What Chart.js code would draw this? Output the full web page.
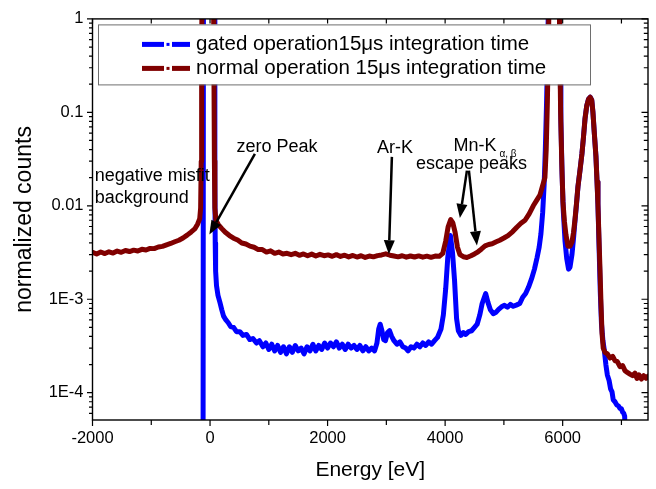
<!DOCTYPE html>
<html><head><meta charset="utf-8">
<script src="https://cdn.jsdelivr.net/npm/chart.js@4/dist/chart.umd.min.js"></script>
<style>html,body{margin:0;padding:0;background:#fff;}#wrap{width:656px;height:489px;position:relative;}</style>
</head><body><div id="wrap"><canvas id="c" width="656" height="489"></canvas></div>
<script>
// ---------- data ----------
const seriesNames = ['gated operation15\u03bcs integration time', 'normal operation 15\u03bcs integration time'];
const seriesColors = ['#0000ff', '#800000'];

const normalEnergy = [-2000,-1930,-1860,-1790,-1720,-1650,-1580,-1510,-1440,-1370,-1300,-1230,-1160,-1090,-1020,-950,-880,-810,-740,-670,-600,-530,-460,-390,-320,-260,-210,-175,-160,-150,-143,-136,
 58,66,74,82,100,140,200,260,330,400,470,540,610,680,750,820,890,960,1030,1100,1170,1240,1310,1380,1450,1520,1590,1660,1730,1800,1870,1940,2010,2080,2150,2220,2290,2360,2430,2500,2570,2640,2710,2780,2850,2920,2990,3060,3130,3200,3270,3340,3410,3480,3550,3620,3690,3760,3830,3900,
 3960,4010,4050,4095,4130,4170,4210,4252,4310,4370,4440,4500,4560,4620,4680,4740,4800,4870,4930,5000,5070,5150,5220,5290,5360,5430,5500,5560,5613,5660,5698,5720,5740,5760,5775,
 5935,5950,5965,5985,6005,6030,6056,6090,6125,6158,6185,6209,6235,6260,6295,6328,6355,6380,6410,6440,6470,6495,6515,6540,6566,6585,6600,6618,6635,6652,6670,6690,6720,6760,6805,6850,6890,6930,6975,7020,7060,7100,7145,7190,7230,7264,7300,7340,7380,7420,7452];
const normalCounts = [0.00318,0.00305,0.00320,0.00308,0.00322,0.00312,0.00328,0.00318,0.00332,0.00324,0.00335,0.00328,0.00342,0.00336,0.00350,0.00348,0.00362,0.00368,0.00382,0.00395,0.00412,0.00428,0.00452,0.00485,0.00525,0.00565,0.00640,0.00730,0.0095,0.03,0.3,3,
 3,0.3,0.03,0.0095,0.0070,0.0063,0.0057,0.0052,0.0048,0.0045,0.0043,0.0040,0.0039,0.0037,0.0036,0.0034,0.0034,0.0032,0.0033,0.0031,0.0032,0.00305,0.0031,0.0030,0.00310,0.00295,0.00305,0.00292,0.00304,0.00290,0.00302,0.00292,0.00298,0.00288,0.00300,0.00287,0.00296,0.00284,0.00294,0.00283,0.00292,0.00280,0.00290,0.00284,0.00293,0.00298,0.00306,0.00296,0.00290,0.00284,0.00292,0.00282,0.00290,0.00283,0.00291,0.00282,0.00289,0.00281,0.00290,0.00288,
 0.00310,0.00420,0.00590,0.00710,0.00660,0.00520,0.00360,0.00300,0.00285,0.00280,0.00292,0.00305,0.00322,0.00345,0.00372,0.00385,0.00392,0.00412,0.00428,0.00452,0.00480,0.00530,0.00590,0.00650,0.00700,0.00820,0.0100,0.0115,0.0130,0.0165,0.0200,0.040,0.13,0.7,3,
 3,0.6,0.1,0.028,0.0110,0.0068,0.0049,0.0037,0.0037,0.0041,0.0052,0.0071,0.0105,0.016,0.024,0.036,0.055,0.085,0.118,0.138,0.145,0.135,0.10,0.058,0.034,0.018,0.0105,0.0045,0.0021,0.0009,0.00043,0.00030,0.00027,0.00026,0.000235,0.000245,0.00022,0.000215,0.00019,0.000195,0.000172,0.000165,0.000158,0.000152,0.000162,0.000142,0.000155,0.000140,0.000152,0.000143,0.000150];

const gatedEnergy = [-120,-112,74,80,84,88,95,110,135,167,200,230,270,310,350,400,450,507,560,620,677,730,790,840,900,950,1000,1050,1100,1150,1200,1250,1300,1350,1400,1450,1500,1550,1600,1650,1700,1750,1800,1850,1900,1950,2000,2050,2100,2150,2200,2250,2300,2350,2400,2450,2500,2550,2600,2650,2700,2750,2800,
 2840,2870,2895,2925,2955,2985,3020,3055,3090,3130,3180,3230,3280,3330,3370,3420,3470,3520,3570,3620,3670,3720,3770,3820,3870,3930,3970,4010,4045,4090,4125,4160,4195,4225,4270,4310,4350,4400,4450,4500,4545,4590,4630,4690,4730,4770,4820,4860,4910,4960,5010,5060,5110,5160,5220,5270,5320,5370,5420,5470,5520,5565,5600,5630,5660,5685,5705,5725,5745,5765,
 5940,5955,5970,5990,6010,6040,6070,6100,6125,6158,6185,6209,6235,6260,6295,6328,6355,6380,6410,6440,6470,6495,6515,6540,6566,6585,6600,6620,6640,6660,6685,6710,6735,6760,6790,6815,6840,6860,6890,6920,6950,6975,7000,7020,7040,7055,7065];
const gatedCounts = [0.000001,5,5,0.3,0.02,0.004,0.0020,0.0014,0.00110,0.00093,0.00077,0.00066,0.00060,0.00056,0.00051,0.00050,0.00045,0.00045,0.00041,0.00042,0.00037,0.00038,0.00034,0.00036,0.00031,0.00034,0.00029,0.00033,0.00028,0.00032,0.00027,0.00031,0.00026,0.00031,0.00027,0.00032,0.00028,0.00030,0.00026,0.00031,0.00028,0.00033,0.00028,0.00032,0.00029,0.00034,0.00030,0.00034,0.00031,0.00035,0.00030,0.00033,0.00029,0.00033,0.00030,0.00032,0.00029,0.00032,0.00028,0.00031,0.00028,0.00030,0.00028,
 0.00034,0.00048,0.00054,0.00046,0.00037,0.00036,0.00044,0.00046,0.00040,0.00036,0.00033,0.00035,0.00031,0.00030,0.00028,0.00031,0.00030,0.00033,0.00031,0.00034,0.00032,0.00035,0.00033,0.00036,0.00039,0.00048,0.00068,0.00130,0.00280,0.00480,0.00320,0.00160,0.00062,0.00046,0.00041,0.00044,0.00042,0.00045,0.00046,0.00050,0.00054,0.00068,0.00090,0.00115,0.00092,0.00077,0.00070,0.00072,0.00078,0.00083,0.00086,0.00082,0.00088,0.00084,0.00087,0.00090,0.00105,0.00115,0.00135,0.00165,0.0021,0.0028,0.0036,0.0050,0.0085,0.017,0.04,0.12,0.45,3,
 3,0.4,0.08,0.022,0.0090,0.0042,0.0027,0.0021,0.0022,0.0030,0.0045,0.0068,0.0103,0.016,0.024,0.036,0.055,0.085,0.118,0.138,0.145,0.135,0.10,0.058,0.034,0.018,0.0105,0.0035,0.0012,0.00055,0.00036,0.00028,0.00020,0.000155,0.000135,0.000110,0.000102,0.000084,0.000080,0.000074,0.000072,0.000068,0.000067,0.000062,0.000060,0.000056,0.00003];

const xTickValues = [-2000, 0, 2000, 4000, 6000];
const xTickLabels = ['-2000', '0', '2000', '4000', '6000'];
const yTickValues = [1e-4, 1e-3, 1e-2, 1e-1, 1];
const yTickLabels = ['1E-4', '1E-3', '0.01', '0.1', '1'];

// annotations anchored in data units (energy, counts)
const noteTexts = [
  {text: 'negative misfit', e: -1961, v: 0.0182},
  {text: 'background', e: -1961, v: 0.0107},
  {text: 'zero Peak', e: 451, v: 0.0372},
  {text: 'Ar-K', e: 2839, v: 0.0367},
  {text: 'Mn-K', e: 4141, v: 0.0386},
  {text: 'escape peaks', e: 3503, v: 0.0249}
];
const noteSub = {text: '\u03b1, \u03b2', e: 4924, v: 0.0334};
const noteArrows = [
  {e0: 763, v0: 0.0359, e1: -12, v1: 0.00492},
  {e0: 3094, v0: 0.0334, e1: 3043, v1: 0.00303},
  {e0: 4371, v0: 0.0238, e1: 4251, v1: 0.0074},
  {e0: 4405, v0: 0.0238, e1: 4541, v1: 0.00377}
];

const FONT = '"Liberation Sans", Arial, Helvetica, sans-serif';

function pts(xs, ys) { return xs.map((x, i) => ({x: x, y: ys[i]})); }

function arrow(ctx, x0, y0, x1, y1) {
  const ang = Math.atan2(y1 - y0, x1 - x0);
  const hl = 14, hw = 5.5;
  const bx = x1 - hl * Math.cos(ang), by = y1 - hl * Math.sin(ang);
  ctx.beginPath(); ctx.moveTo(x0, y0); ctx.lineTo(bx, by); ctx.lineWidth = 2.5; ctx.stroke();
  ctx.beginPath();
  ctx.moveTo(x1, y1);
  ctx.lineTo(bx + hw * Math.sin(ang), by - hw * Math.cos(ang));
  ctx.lineTo(bx - hw * Math.sin(ang), by + hw * Math.cos(ang));
  ctx.closePath(); ctx.fill();
}

const decor = {
  id: 'decor',
  afterDatasetsDraw(chart) {
    const {ctx, chartArea: a, scales: {x, y}} = chart;
    ctx.save();
    ctx.fillStyle = '#000'; ctx.strokeStyle = '#000';
    // annotations
    ctx.font = '18px ' + FONT; ctx.textBaseline = 'alphabetic'; ctx.textAlign = 'left';
    noteTexts.forEach(n => ctx.fillText(n.text, x.getPixelForValue(n.e), y.getPixelForValue(n.v)));
    ctx.font = '10px ' + FONT;
    ctx.fillText(noteSub.text, x.getPixelForValue(noteSub.e), y.getPixelForValue(noteSub.v));
    noteArrows.forEach(r => arrow(ctx, x.getPixelForValue(r.e0), y.getPixelForValue(r.v0), x.getPixelForValue(r.e1), y.getPixelForValue(r.v1)));

    // legend box
    const lx = a.left + 5.5, ly = a.top + 5.5, lw = 492, lh = 60;
    ctx.fillStyle = '#fff'; ctx.fillRect(lx, ly, lw, lh);
    ctx.strokeStyle = '#6e6e6e'; ctx.lineWidth = 1; ctx.strokeRect(lx + 0.5, ly + 0.5, lw, lh);
    ctx.font = '20.5px ' + FONT;
    seriesNames.forEach((name, i) => {
      const cy = ly + 20 + i * 24;
      ctx.fillStyle = seriesColors[i];
      ctx.fillRect(lx + 44, cy - 2.5, 22, 5);
      ctx.fillRect(lx + 68.5, cy - 1.5, 3, 3);
      ctx.fillRect(lx + 74, cy - 2.5, 18, 5);
      ctx.fillStyle = '#000';
      ctx.fillText(name, lx + 98, cy + 5.5);
    });

    // frame and ticks
    ctx.strokeStyle = '#000'; ctx.lineWidth = 1.4;
    ctx.strokeRect(a.left, a.top, a.right - a.left, a.bottom - a.top);
    ctx.lineWidth = 1.2;
    ctx.beginPath();
    for (let e = -5; e <= 0; e++) {
      for (let m = 1; m <= 9; m++) {
        const v = m * Math.pow(10, e);
        if (v < y.min || v > y.max * 1.0001) continue;
        const py = y.getPixelForValue(v);
        const major = m === 1;
        ctx.moveTo(a.left - (major ? 5.5 : 3.5), py); ctx.lineTo(a.left, py);
        ctx.moveTo(a.right, py); ctx.lineTo(a.right - (major ? 6.5 : 4.2), py);
      }
    }
    for (let e = -2000; e <= 7000; e += 1000) {
      const px = x.getPixelForValue(e);
      const major = e % 2000 === 0;
      ctx.moveTo(px, a.bottom); ctx.lineTo(px, a.bottom + (major ? 6 : 5));
      ctx.moveTo(px, a.top); ctx.lineTo(px, a.top + 4.5);
    }
    ctx.stroke();
    ctx.restore();
  }
};

Chart.defaults.font.family = FONT;
Chart.defaults.color = '#000';

new Chart(document.getElementById('c'), {
  type: 'line',
  data: {
    datasets: [
      {label: seriesNames[1], data: pts(normalEnergy, normalCounts), borderColor: seriesColors[1], borderWidth: 5, pointRadius: 0, tension: 0, fill: false, clip: 0, borderJoinStyle: 'round', borderCapStyle: 'round'},
      {label: seriesNames[0], data: pts(gatedEnergy, gatedCounts), borderColor: seriesColors[0], borderWidth: 5, pointRadius: 0, tension: 0, fill: false, clip: 0, borderJoinStyle: 'round', borderCapStyle: 'round'}
    ]
  },
  options: {
    responsive: false, animation: false, devicePixelRatio: 1,
    layout: {padding: {left: 0, right: 8, top: 12.7, bottom: 0}},
    plugins: {legend: {display: false}, tooltip: {enabled: false}},
    scales: {
      x: {
        type: 'linear', position: 'bottom', min: -2000, max: 7452,
        grid: {display: false, drawTicks: false},
        border: {display: false},
        afterBuildTicks: s => { s.ticks = xTickValues.map(v => ({value: v})); },
        afterFit: s => { s.height = 69; },
        ticks: {autoSkip: false, maxRotation: 0, padding: 9, font: {size: 16.5}, callback: (v, i) => xTickLabels[i]},
        title: {display: true, text: 'Energy [eV]', font: {size: 21}, padding: {top: 0, bottom: 6}}
      },
      y: {
        type: 'logarithmic', min: 5.1e-5, max: 1,
        grid: {display: false, drawTicks: false},
        border: {display: false},
        afterBuildTicks: s => { s.ticks = yTickValues.map(v => ({value: v})); },
        afterFit: s => { s.width = 92.5; },
        ticks: {autoSkip: false, padding: 9, font: {size: 16.5}, callback: (v, i) => yTickLabels[i]},
        title: {display: true, text: 'normalized counts', font: {size: 23}, padding: {top: 11, bottom: 0}}
      }
    }
  },
  plugins: [decor]
});
</script></body></html>
